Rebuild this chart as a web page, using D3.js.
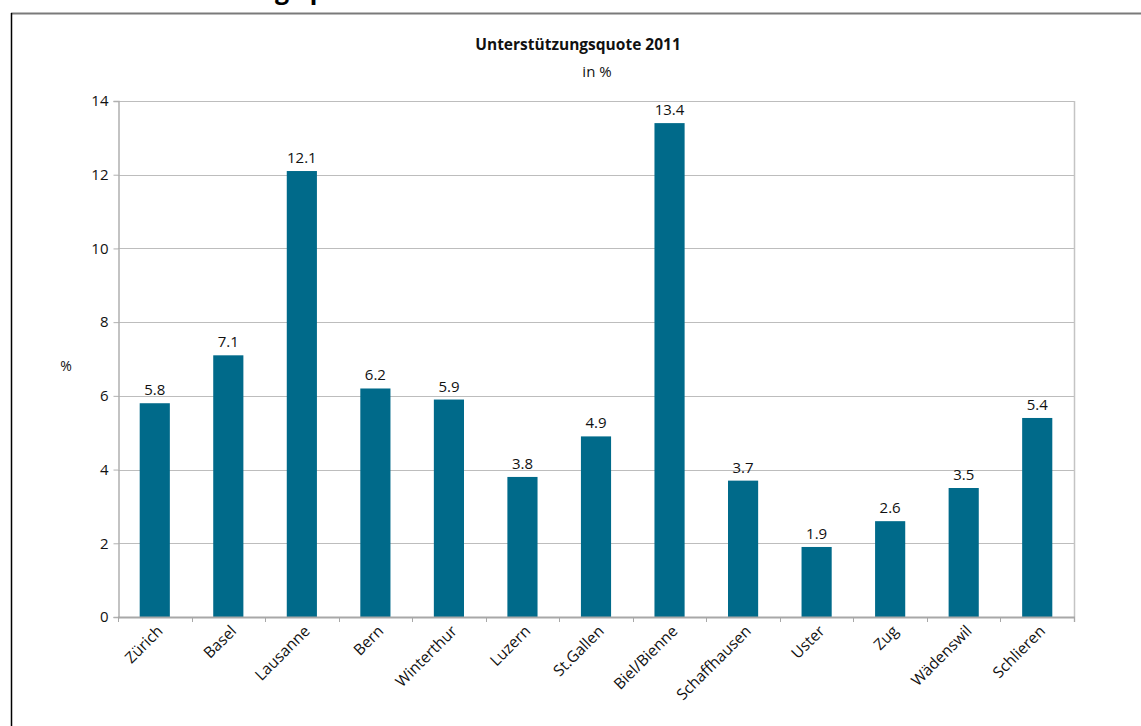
<!DOCTYPE html>
<html>
<head>
<meta charset="utf-8">
<script src="https://cdn.jsdelivr.net/npm/d3@7"></script>
<style>
  html, body { margin: 0; padding: 0; background: #fff; }
  svg { display: block; font-family: "Open Sans", "DejaVu Sans", sans-serif; }
</style>
</head>
<body>
<div id="chart"></div>
<script>
// Data
const cities = ['Zürich', 'Basel', 'Lausanne', 'Bern', 'Winterthur', 'Luzern', 'St.Gallen',
  'Biel/Bienne', 'Schaffhausen', 'Uster', 'Zug', 'Wädenswil', 'Schlieren'];
const quote = [5.8, 7.1, 12.1, 6.2, 5.9, 3.8, 4.9, 13.4, 3.7, 1.9, 2.6, 3.5, 5.4];
const yTicks = [0, 2, 4, 6, 8, 10, 12, 14];

const W = 1141, H = 726;
const plot = { left: 118, right: 1074, top: 101, bottom: 617 };

const svg = d3.select('#chart').append('svg')
  .attr('width', W).attr('height', H);

// page heading, cut off at the top edge (as in the source page)
svg.append('text')
  .attr('x', 107).attr('y', -1)
  .attr('font-size', 25).attr('font-weight', 'bold')
  .attr('fill', '#000')
  .text('Unterstützungsquote');

// outer frame
svg.append('line')
  .attr('x1', 11).attr('x2', W).attr('y1', 13.5).attr('y2', 13.5)
  .attr('stroke', '#7a7a7a').attr('stroke-width', 2);
svg.append('line')
  .attr('x1', 11.5).attr('x2', 11.5).attr('y1', 13).attr('y2', H)
  .attr('stroke', '#000').attr('stroke-width', 1.5);

const x = d3.scaleBand()
  .domain(cities)
  .range([plot.left, plot.right])
  .paddingInner(0.59).paddingOuter(0.295);

const y = d3.scaleLinear()
  .domain([0, 14])
  .range([plot.bottom, plot.top]);

// gridlines
svg.append('g')
  .selectAll('line')
  .data(yTicks)
  .join('line')
  .attr('x1', plot.left).attr('x2', plot.right)
  .attr('y1', d => Math.round(y(d)) + 0.5).attr('y2', d => Math.round(y(d)) + 0.5)
  .attr('stroke', '#bdbdbd').attr('stroke-width', 1.2);

// right border of plot
svg.append('line')
  .attr('x1', plot.right + 0.5).attr('x2', plot.right + 0.5)
  .attr('y1', plot.top).attr('y2', plot.bottom + 5)
  .attr('stroke', '#c4c4c4').attr('stroke-width', 1.5);

// y axis
svg.append('g')
  .attr('transform', `translate(${plot.left + 0.5},0)`)
  .call(d3.axisLeft(y).tickValues(yTicks).tickSize(5).tickPadding(5).tickFormat(d3.format('d')))
  .call(g => {
    g.select('.domain').attr('stroke', '#b0b0b0').attr('stroke-width', 1.5);
    g.selectAll('.tick line').attr('stroke', '#b0b0b0');
    g.selectAll('text').attr('fill', '#111').attr('font-size', 15)
      .attr('font-family', '"Open Sans", sans-serif');
  });

// bars
svg.append('g')
  .selectAll('rect')
  .data(quote)
  .join('rect')
  .attr('x', (d, i) => x(cities[i]))
  .attr('width', x.bandwidth())
  .attr('y', d => y(d))
  .attr('height', d => plot.bottom - y(d))
  .attr('fill', '#006a8a');

// value labels
svg.append('g')
  .selectAll('text')
  .data(quote)
  .join('text')
  .attr('x', (d, i) => x(cities[i]) + x.bandwidth() / 2)
  .attr('y', d => y(d) - 8)
  .attr('text-anchor', 'middle')
  .attr('font-size', 15).attr('fill', '#111')
  .text(d => d.toFixed(1));

// x axis
const step = x.step();
const bounds = d3.range(cities.length + 1).map(i => plot.left + i * step);
svg.append('line')
  .attr('x1', plot.left).attr('x2', plot.right + 1)
  .attr('y1', plot.bottom + 0.5).attr('y2', plot.bottom + 0.5)
  .attr('stroke', '#a8a8a8').attr('stroke-width', 1.8);
svg.append('g')
  .selectAll('line')
  .data(bounds)
  .join('line')
  .attr('x1', d => Math.round(d) + 0.5).attr('x2', d => Math.round(d) + 0.5)
  .attr('y1', plot.bottom).attr('y2', plot.bottom + 5)
  .attr('stroke', '#a8a8a8');

svg.append('g')
  .selectAll('text')
  .data(cities)
  .join('text')
  .attr('transform', d => `translate(${x(d) + x.bandwidth() / 2 + 9},${plot.bottom + 15}) rotate(-45)`)
  .attr('text-anchor', 'end')
  .attr('font-size', 15.5).attr('fill', '#111')
  .text(d => d);

// titles
svg.append('text')
  .attr('x', 578).attr('y', 50)
  .attr('text-anchor', 'middle')
  .attr('font-size', 15.5).attr('font-weight', 'bold').attr('fill', '#111')
  .text('Unterstützungsquote 2011');
svg.append('text')
  .attr('x', 597).attr('y', 77)
  .attr('text-anchor', 'middle')
  .attr('font-size', 15).attr('fill', '#111')
  .text('in %');

// y axis label
svg.append('text')
  .attr('x', 66).attr('y', 371)
  .attr('text-anchor', 'middle')
  .attr('font-size', 14).attr('fill', '#111')
  .text('%');
</script>
</body>
</html>
